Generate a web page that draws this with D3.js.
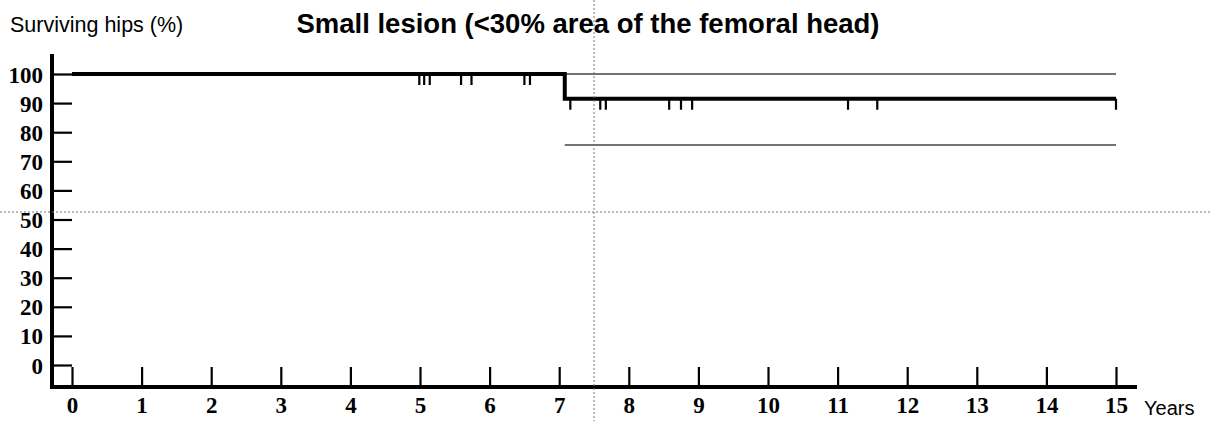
<!DOCTYPE html>
<html>
  <head>
    <script src="https://d3js.org/d3.v7.min.js"></script>
    <style>
      body { margin: 0; background: #fff; }
      .tick text { font-family: "Liberation Serif", "DejaVu Serif", serif; font-weight: bold; font-size: 23px; fill: #000; }
    </style>
  </head>
  <body>
    <div id="graph"></div>
  </body>
  <script>

    // Kaplan-Meier step: time (years) and survival (%)
    var stepTimes = [0, 7.08, 15];
    var stepSurv = [100, 91.5, 91.5];

    // censored hips (years)
    var censorTimes = [4.99, 5.06, 5.14, 5.59, 5.74, 6.50, 6.58,
                       7.16, 7.59, 7.67, 8.58, 8.75, 8.91, 11.15, 11.57, 15];

    // 95% confidence band after the event
    var ciTimes = [7.08, 15];
    var ciUpper = [100, 100];
    var ciLower = [75.6, 75.6];

    var xTicks = d3.range(0, 16);
    var yTicks = d3.range(0, 101, 10);

    var W = 1210, H = 421;

    var svg = d3.select("#graph")
                .append("svg")
                .attr("width", W)
                .attr("height", H);

    var xScale = d3.scaleLinear().domain([0, 15]).range([72, 1116]);
    var yScale = d3.scaleLinear().domain([0, 100]).range([365, 74]);

    // title + y label
    svg.append("text")
       .attr("x", 588).attr("y", 33)
       .attr("text-anchor", "middle")
       .style("font-family", "Liberation Sans, Arial, sans-serif")
       .style("font-weight", "bold")
       .style("font-size", "27.5px")
       .text("Small lesion (<30% area of the femoral head)");

    svg.append("text")
       .attr("x", 10).attr("y", 32)
       .style("font-family", "Liberation Sans, Arial, sans-serif")
       .style("font-size", "21.5px")
       .text("Surviving hips (%)");

    // y axis ticks (pointing inward)
    var yAxis = svg.append("g")
                   .attr("transform", "translate(52,0)")
                   .call(d3.axisLeft(yScale).tickValues(yTicks).tickSize(-20).tickPadding(9));
    yAxis.select(".domain").remove();
    yAxis.selectAll(".tick line").attr("stroke", "#000").attr("stroke-width", 2.2);
    yAxis.selectAll(".tick text").attr("dy", "0.35em");

    var xAxis = svg.append("g")
                   .attr("transform", "translate(0,387)")
                   .call(d3.axisBottom(xScale).tickValues(xTicks).tickSize(-20).tickPadding(10));
    xAxis.select(".domain").remove();
    xAxis.selectAll(".tick line").attr("stroke", "#000").attr("stroke-width", 2.2);

    // axis lines
    svg.append("line")
       .attr("x1", 52).attr("x2", 52).attr("y1", 54).attr("y2", 389)
       .attr("stroke", "#000").attr("stroke-width", 4);
    svg.append("line")
       .attr("x1", 50).attr("x2", 1137).attr("y1", 387).attr("y2", 387)
       .attr("stroke", "#000").attr("stroke-width", 4);

    svg.append("text")
       .attr("x", 1144).attr("y", 415)
       .style("font-family", "Liberation Sans, Arial, sans-serif")
       .style("font-size", "20px")
       .text("Years");

    // confidence band lines
    var ciLine = d3.line().x(d => xScale(d[0])).y(d => yScale(d[1]));
    [ciUpper, ciLower].forEach(function(arr) {
      svg.append("path")
         .datum(ciTimes.map((t, i) => [t, arr[i]]))
         .attr("fill", "none")
         .attr("stroke", "#444")
         .attr("stroke-width", 1.5)
         .attr("d", ciLine);
    });

    // survival curve
    var survLine = d3.line()
                     .x(d => xScale(d[0]))
                     .y(d => yScale(d[1]))
                     .curve(d3.curveStepAfter);
    svg.append("path")
       .datum(stepTimes.map((t, i) => [t, stepSurv[i]]))
       .attr("fill", "none")
       .attr("stroke", "#000")
       .attr("stroke-width", 4)
       .attr("d", survLine);

    // survival level at time t
    function survAt(t) {
      var s = stepSurv[0];
      stepTimes.forEach(function(st, i) { if (t >= st) s = stepSurv[i]; });
      return s;
    }

    svg.selectAll(".censor")
       .data(censorTimes)
       .enter().append("line")
       .attr("class", "censor")
       .attr("x1", d => xScale(d)).attr("x2", d => xScale(d))
       .attr("y1", d => yScale(survAt(d)))
       .attr("y2", d => yScale(survAt(d)) + 11)
       .attr("stroke", "#000")
       .attr("stroke-width", 2.2);

    // crosshair dotted lines from the screenshot
    svg.append("line")
       .attr("x1", 0).attr("x2", W).attr("y1", 212).attr("y2", 212)
       .attr("stroke", "#777").attr("stroke-width", 1).attr("stroke-dasharray", "2,2");
    svg.append("line")
       .attr("x1", 594).attr("x2", 594).attr("y1", 0).attr("y2", H)
       .attr("stroke", "#777").attr("stroke-width", 1).attr("stroke-dasharray", "2,2");

  </script>
</html>
